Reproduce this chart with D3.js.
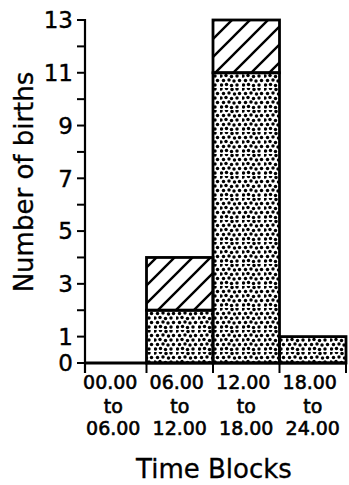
<!DOCTYPE html>
<html>
<head>
<meta charset="utf-8">
<script src="https://cdn.jsdelivr.net/npm/d3@7"></script>
<style>
body { margin: 0; background: white; }
svg { display: block; }
</style>
</head>
<body>
<script>
const width = 349
const height = 485

// data
const blocksTop = ["00.00", "06.00", "12.00", "18.00"]
const blocksBottom = ["06.00", "12.00", "18.00", "24.00"]
const stippled = [0, 2, 11, 1]
const hatched = [0, 2, 2, 0]
const tickLabels = [0, 1, 3, 5, 7, 9, 11, 13]

const axisX = 85
const x = d3.scaleBand().domain(blocksTop).range([80, 346])
const y = d3.scaleLinear().domain([0, 13]).range([363, 20])

const svg = d3.select("body").append("svg")
    .attr("width", width)
    .attr("height", height)

const defs = svg.append("defs")

// stipple pattern: dense, slightly irregular dots
const dots = [
    [1, 1], [6.5, 0.5], [12, 1.5], [17, 1],
    [3.5, 5.5], [9, 5], [14.5, 6], [19.5, 5.5],
    [1, 10], [6, 9.5], [11.5, 10.5], [17, 10],
    [3.5, 14.5], [9, 14], [14, 15], [19.5, 14.5],
    [1.5, 19], [6.5, 18.5], [11.5, 19.5], [17, 19]
]
const stip = defs.append("pattern")
    .attr("id", "stipple")
    .attr("patternUnits", "userSpaceOnUse")
    .attr("width", 22)
    .attr("height", 22)
stip.selectAll("circle").data(dots).enter().append("circle")
    .attr("cx", d => d[0])
    .attr("cy", d => d[1])
    .attr("r", 1.75)
    .attr("fill", "#000")

const hatch = defs.append("pattern")
    .attr("id", "hatch")
    .attr("patternUnits", "userSpaceOnUse")
    .attr("width", 18)
    .attr("height", 18)
hatch.append("path")
    .attr("d", "M-4,4 L4,-4 M0,18 L18,0 M14,22 L22,14")
    .attr("stroke", "#000")
    .attr("stroke-width", 2.4)

const stacks = blocksTop.map((b, i) => ({
    key: b, s: stippled[i], h: hatched[i]
}))

const bars = svg.append("g")
bars.selectAll("rect.stip").data(stacks.filter(d => d.s > 0)).enter().append("rect")
    .attr("class", "stip")
    .attr("x", d => x(d.key))
    .attr("width", x.bandwidth())
    .attr("y", d => y(d.s))
    .attr("height", d => y(0) - y(d.s))
    .attr("fill", "url(#stipple)")
    .attr("stroke", "#000")
    .attr("stroke-width", 2.8)
bars.selectAll("rect.hatch").data(stacks.filter(d => d.h > 0)).enter().append("rect")
    .attr("class", "hatch")
    .attr("x", d => x(d.key))
    .attr("width", x.bandwidth())
    .attr("y", d => y(d.s + d.h))
    .attr("height", d => y(d.s) - y(d.s + d.h))
    .attr("fill", "url(#hatch)")
    .attr("stroke", "#000")
    .attr("stroke-width", 2.8)

// y axis
const yAxis = svg.append("g")
yAxis.append("line")
    .attr("x1", axisX).attr("x2", axisX)
    .attr("y1", y(13) - 1).attr("y2", y(0) + 10)
    .attr("stroke", "#000").attr("stroke-width", 2.2)
yAxis.selectAll("line.tick").data(d3.range(0, 14)).enter().append("line")
    .attr("class", "tick")
    .attr("x1", axisX - 8).attr("x2", axisX)
    .attr("y1", d => y(d)).attr("y2", d => y(d))
    .attr("stroke", "#000").attr("stroke-width", 2)
yAxis.selectAll("text").data(tickLabels).enter().append("text")
    .attr("x", axisX - 12)
    .attr("y", d => y(d))
    .attr("dy", "0.36em")
    .attr("text-anchor", "end")
    .attr("font-family", "DejaVu Sans")
    .attr("font-size", 23)
    .attr("stroke", "#000").attr("stroke-width", 0.4)
    .text(d => d)

// x axis
const xAxis = svg.append("g")
xAxis.append("line")
    .attr("x1", axisX).attr("x2", x.range()[1])
    .attr("y1", y(0)).attr("y2", y(0))
    .attr("stroke", "#000").attr("stroke-width", 2.8)
xAxis.selectAll("line.tick").data(blocksTop.slice(1).map(b => x(b)).concat([x.range()[1]])).enter().append("line")
    .attr("class", "tick")
    .attr("x1", d => d).attr("x2", d => d)
    .attr("y1", y(0)).attr("y2", y(0) + 10)
    .attr("stroke", "#000").attr("stroke-width", 2)

const lab = xAxis.selectAll("g.lab").data(blocksTop).enter().append("g")
    .attr("class", "lab")
    .attr("transform", d => `translate(${x(d) + x.bandwidth() / 2},0)`)
    .attr("font-family", "DejaVu Sans")
    .attr("font-size", 19)
    .attr("text-anchor", "middle")
    .attr("stroke", "#000").attr("stroke-width", 0.6)
lab.append("text").attr("y", 389).attr("x", -3).text(d => d)
lab.append("text").attr("y", 413).text("to")
lab.append("text").attr("y", 435).text((d, i) => blocksBottom[i])

svg.append("text")
    .attr("x", 214)
    .attr("y", 478)
    .attr("text-anchor", "middle")
    .attr("font-family", "DejaVu Sans")
    .attr("font-size", 26)
    .attr("stroke", "#000").attr("stroke-width", 0.3)
    .text("Time Blocks")

svg.append("text")
    .attr("transform", "translate(33,182) rotate(-90)")
    .attr("text-anchor", "middle")
    .attr("font-family", "DejaVu Sans")
    .attr("font-size", 26)
    .attr("stroke", "#000").attr("stroke-width", 0.3)
    .text("Number of births")
</script>
</body>
</html>
